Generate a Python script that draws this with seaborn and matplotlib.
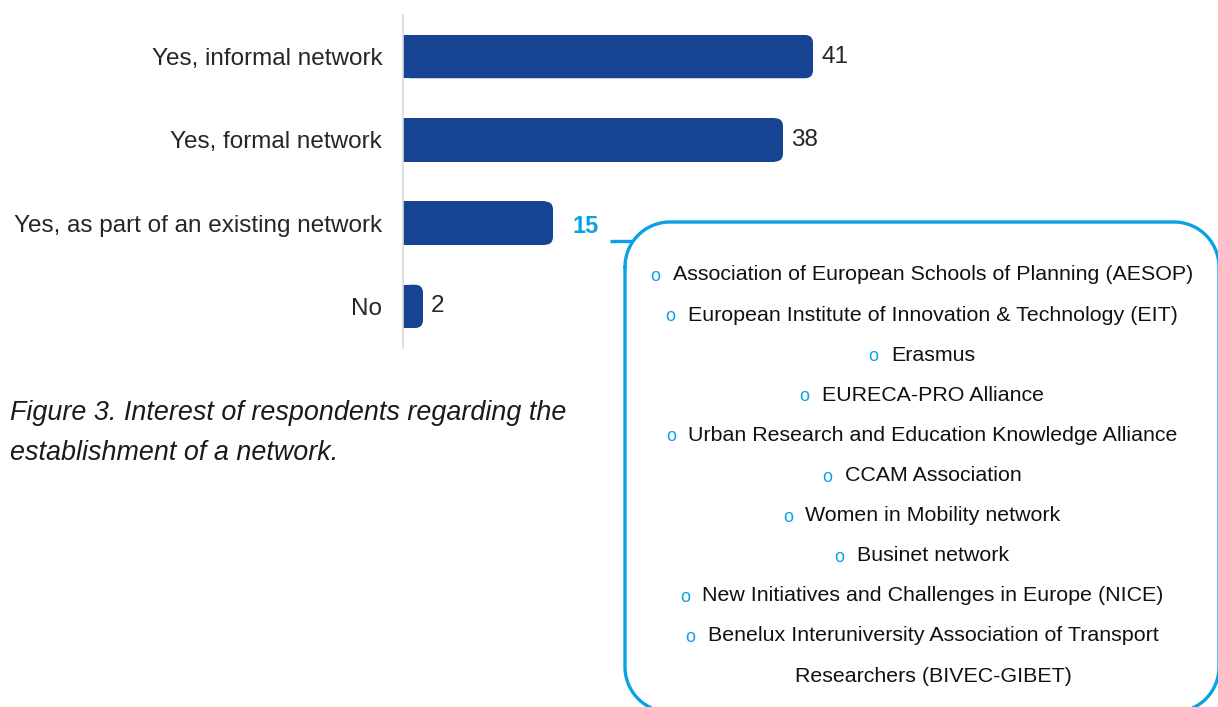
import matplotlib
matplotlib.use("Agg")
import matplotlib.pyplot as plt
import seaborn as sns
import pandas as pd
import numpy as np
from matplotlib.patches import FancyBboxPatch, Rectangle

# data
answers = ["Yes, informal network", "Yes, formal network",
           "Yes, as part of an existing network", "No"]
counts = [41, 38, 15, 2]
networks = [
    "Association of European Schools of Planning (AESOP)",
    "European Institute of Innovation & Technology (EIT)",
    "Erasmus",
    "EURECA-PRO Alliance",
    "Urban Research and Education Knowledge Alliance",
    "CCAM Association",
    "Women in Mobility network",
    "Businet network",
    "New Initiatives and Challenges in Europe (NICE)",
    "Benelux Interuniversity Association of Transport",
]
networks_tail = "Researchers (BIVEC-GIBET)"
caption = "Figure 3. Interest of respondents regarding the\nestablishment of a network."

df = pd.DataFrame({"answer": answers, "count": counts})

sns.set_style("white")
plt.rcParams["font.family"] = ["Liberation Sans", "DejaVu Sans"]

bar_col = "#174393"
blue = "#0AA2E6"
txt_col = "#262626"

W, H = 1218, 707
fig = plt.figure(figsize=(W / 100, H / 100), dpi=100)

# overlay in pixel coordinates for caption and network box
ov = fig.add_axes([0, 0, 1, 1])
ov.set_xlim(0, W)
ov.set_ylim(H, 0)
ov.axis("off")

ax = fig.add_axes([403 / W, 1 - 348 / H, 500 / W, 333 / H])
ax.patch.set_alpha(0)

sns.barplot(data=df, y="answer", x="count", color=bar_col, width=0.52,
            orient="h", ax=ax, saturation=1)

# swap bars for ones with rounded right ends
for p in list(ax.patches):
    x0, y0 = p.get_x(), p.get_y()
    w, h = p.get_width(), p.get_height()
    p.set_visible(False)
    r = min(0.8, w / 2)
    fb = FancyBboxPatch((x0, y0), w, h,
                        boxstyle=f"round,pad=0,rounding_size={r}",
                        mutation_aspect=0.12, fc=bar_col, ec="none", zorder=2)
    ax.add_patch(fb)
    ax.add_patch(Rectangle((x0, y0), max(w - r, 0), h, fc=bar_col, ec="none", zorder=2))

ax.set_xlim(0, 50)
ax.set_ylim(3.5, -0.5)
ax.set_xlabel("")
ax.set_ylabel("")
ax.set_xticks([])
for s in ["top", "right", "bottom"]:
    ax.spines[s].set_visible(False)
ax.spines["left"].set_color("#d9d9d9")
ax.spines["left"].set_linewidth(1.2)
ax.tick_params(axis="y", length=0, pad=15, labelsize=17.5, labelcolor=txt_col)

for i, v in enumerate(counts):
    if v == 15:
        ax.text(v + 1.9, i + 0.04, str(v), va="center", ha="left",
                fontsize=17, color=blue, fontweight="bold")
    else:
        ax.text(v + 0.8, i, str(v), va="center", ha="left",
                fontsize=17.5, color=txt_col)

ov.text(10, 433, caption, fontsize=19.4, style="italic", color="#1a1a1a",
        va="center", ha="left", linespacing=1.7)

# rounded frame drawn as a polyline (partly runs off the page)
bx0, by0, bx1, by1, R = 625, 222, 1219, 712, 45
xs, ys = [], []
for cx, cy, a0 in [(bx0 + R, by0 + R, 180), (bx1 - R, by0 + R, 270),
                   (bx1 - R, by1 - R, 0), (bx0 + R, by1 - R, 90)]:
    t = np.radians(np.linspace(a0, a0 + 90, 30))
    xs.extend(cx + R * np.cos(t))
    ys.extend(cy + R * np.sin(t))
xs.append(xs[0])
ys.append(ys[0])
ov.plot(xs, ys, color=blue, lw=2.4, solid_joinstyle="round")
ov.plot([610, 632], [241, 241], color=blue, lw=2.4, solid_capstyle="butt")

y = 275
for name in networks:
    t = ov.text(933, y, name, fontsize=15.4, color="#111111",
                ha="center", va="center")
    ov.annotate("o", xy=(0, 0.42), xycoords=t, xytext=(-9, 0),
                textcoords="offset points", ha="right", va="center",
                fontsize=13, color=blue)
    y += 40.1
ov.text(933, y, networks_tail, fontsize=15.4, color="#111111",
        ha="center", va="center")

fig.savefig("out.png", dpi=100)
